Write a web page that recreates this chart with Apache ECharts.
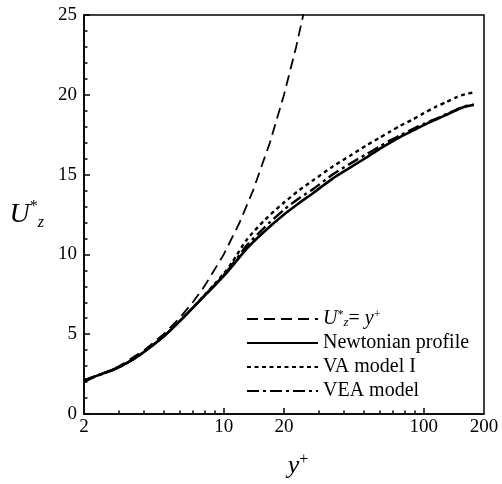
<!DOCTYPE html>
<html>
<head>
<meta charset="utf-8">
<script src="https://cdn.jsdelivr.net/npm/echarts@6/dist/echarts.min.js"></script>
<style>
html,body{margin:0;padding:0;background:#fff;}
#chart{width:502px;height:484px;}
</style>
</head>
<body>
<div id="chart"></div>
<script>
// ---- data ----
const yPlus = [2, 2.5, 2.9, 3.5, 4, 5, 6, 7, 8, 9, 10, 11, 13, 16, 20, 24, 28, 35, 43, 52, 60, 68, 76, 88, 100, 115, 130, 146, 160, 178];
const newtonian = [2.1, 2.55, 2.85, 3.4, 3.9, 4.85, 5.8, 6.65, 7.4, 8.05, 8.65, 9.25, 10.35, 11.45, 12.5, 13.25, 13.85, 14.75, 15.45, 16.1, 16.6, 17.0, 17.35, 17.75, 18.1, 18.45, 18.75, 19.05, 19.25, 19.38];
const vaModel1 = [2.1, 2.55, 2.85, 3.4, 3.9, 4.85, 5.8, 6.67, 7.45, 8.15, 8.8, 9.5, 10.9, 12.15, 13.25, 14.05, 14.65, 15.5, 16.2, 16.85, 17.3, 17.7, 18.05, 18.45, 18.85, 19.25, 19.55, 19.85, 20.03, 20.15];
const veaModel = [2.1, 2.55, 2.85, 3.4, 3.9, 4.85, 5.8, 6.65, 7.42, 8.08, 8.7, 9.35, 10.55, 11.7, 12.8, 13.55, 14.1, 15.0, 15.7, 16.3, 16.75, 17.15, 17.45, 17.85, 18.18, 18.5, 18.8, 19.08, 19.27, 19.38];
const linearX = [2, 3, 4, 5, 6, 7, 8, 10, 12, 14, 17, 20, 23, 26];
const linearU = [2, 3, 4, 5, 6, 7, 8, 10, 12, 14, 17, 20, 23, 26];
const xLabelValues = [2, 10, 20, 100, 200];
const xMajorTicks = [10, 20, 100];
const xMinorTicks = [3, 4, 5, 6, 7, 8, 9, 30, 40, 50, 60, 70, 80, 90];
const seriesNames = ['linear', 'Newtonian profile', 'VA model I', 'VEA model'];

const FONT = '"Liberation Serif", "DejaVu Serif", serif';
const pairs = (xs, ys) => xs.map((x, i) => [x, ys[i]]);

const chart = echarts.init(document.getElementById('chart'), null, {renderer: 'canvas'});

const lineBase = {type: 'line', symbol: 'none', smooth: 0.25, clip: true, xAxisIndex: 0, yAxisIndex: 0,
  itemStyle: {color: '#000', opacity: 0}};

chart.setOption({
  animation: false,
  backgroundColor: '#fff',
  grid: {left: 84, right: 18, top: 15, bottom: 70, show: true, borderColor: '#000', borderWidth: 1.5, backgroundColor: 'transparent'},
  legend: {
    orient: 'vertical', left: 241, top: 304,
    itemWidth: 71, itemHeight: 14, itemGap: 4,
    data: seriesNames,
    itemStyle: {opacity: 0},
    textStyle: {
      fontFamily: FONT, fontSize: 20, color: '#000', lineHeight: 20,
      rich: {
        i: {fontFamily: FONT, fontSize: 20, fontStyle: 'italic', lineHeight: 20, color: '#000'},
        n: {fontFamily: FONT, fontSize: 20, lineHeight: 20, color: '#000'},
        sup: {fontFamily: FONT, fontSize: 12, lineHeight: 12, verticalAlign: 'top', color: '#000'},
        sub: {fontFamily: FONT, fontSize: 13, fontStyle: 'italic', lineHeight: 12, verticalAlign: 'bottom', color: '#000'}
      }
    },
    formatter: function (name) {
      if (name === 'linear') return '{i|U}{sup|*}{sub|z}{n|= }{i|y}{sup|+}';
      return name;
    }
  },
  xAxis: [{
    type: 'log', logBase: 10, min: 2, max: 200, position: 'bottom',
    axisLine: {show: true, lineStyle: {color: '#000', width: 1.5}},
    axisTick: {show: true, inside: true, length: 6, lineStyle: {color: '#000', width: 1.5}, customValues: xMajorTicks},
    axisLabel: {show: true, customValues: xLabelValues, margin: 4, fontFamily: FONT, fontSize: 19, color: '#000', formatter: v => String(Math.round(v))},
    splitLine: {show: false}, minorTick: {show: false},
    name: '{i|y}{sup|+}', nameLocation: 'middle', nameGap: 38,
    nameTextStyle: {padding: [0, 0, 0, 28], rich: {
      i: {fontFamily: FONT, fontSize: 26, fontStyle: 'italic', color: '#000', lineHeight: 28},
      sup: {fontFamily: FONT, fontSize: 16, color: '#000', lineHeight: 16, verticalAlign: 'top'}
    }}
  }, {
    type: 'log', logBase: 10, min: 2, max: 200, position: 'bottom',
    axisLine: {show: false},
    axisTick: {show: true, inside: true, length: 3.5, lineStyle: {color: '#000', width: 1.5}, customValues: xMinorTicks},
    axisLabel: {show: false}, splitLine: {show: false}
  }],
  yAxis: {
    type: 'value', min: 0, max: 25, interval: 5,
    axisLine: {show: true, lineStyle: {color: '#000', width: 1.5}},
    axisTick: {show: true, inside: true, length: 6, lineStyle: {color: '#000', width: 1.5}},
    minorTick: {show: true, splitNumber: 5, length: 3.5, lineStyle: {color: '#000', width: 1.5}},
    axisLabel: {margin: 7, fontFamily: FONT, fontSize: 19, color: '#000'},
    splitLine: {show: false},
    name: '{i|U}{sup|*}{sub|z}', nameLocation: 'middle', nameRotate: 0, nameGap: 40,
    nameTextStyle: {rich: {
      i: {fontFamily: FONT, fontSize: 28, fontStyle: 'italic', color: '#000', lineHeight: 32},
      sup: {fontFamily: FONT, fontSize: 16, color: '#000', lineHeight: 16, verticalAlign: 'top'},
      sub: {fontFamily: FONT, fontSize: 16, fontStyle: 'italic', color: '#000', lineHeight: 16, verticalAlign: 'bottom'}
    }}
  },
  series: [
    Object.assign({}, lineBase, {name: seriesNames[0], smooth: false, data: pairs(linearX, linearU), lineStyle: {color: '#000', width: 1.8, type: [11, 6]}, z: 3}),
    Object.assign({}, lineBase, {name: seriesNames[1], data: pairs(yPlus, newtonian), lineStyle: {color: '#000', width: 2.6, type: 'solid'}, z: 4}),
    Object.assign({}, lineBase, {name: seriesNames[2], data: pairs(yPlus, vaModel1), lineStyle: {color: '#000', width: 2.4, type: [4, 3.5]}, z: 5}),
    Object.assign({}, lineBase, {name: seriesNames[3], data: pairs(yPlus, veaModel), lineStyle: {color: '#000', width: 2.4, type: [12, 4, 3, 4]}, z: 6})
  ]
});
</script>
</body>
</html>
